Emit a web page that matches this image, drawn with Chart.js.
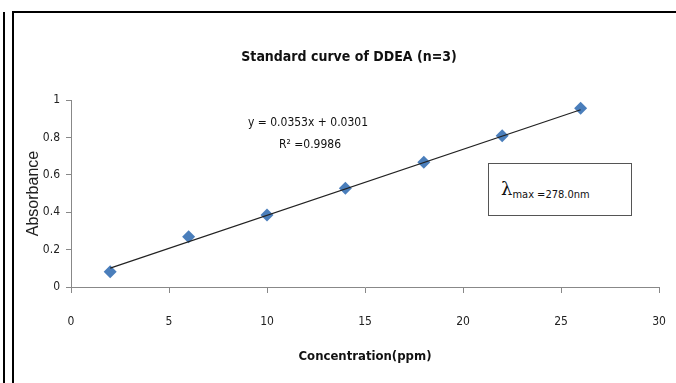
<!DOCTYPE html>
<html>
<head>
<meta charset="utf-8">
<script src="https://cdn.jsdelivr.net/npm/chart.js@4"></script>
<style>
  html, body { margin: 0; padding: 0; background: #fff; }
  #wrap { position: relative; width: 676px; height: 383px; overflow: hidden; }
  canvas { position: absolute; left: 0; top: 0; }
  .frame { position: absolute; background: #000; }
  .txt { position: absolute; font-family: "Liberation Sans Narrow", "DejaVu Sans Condensed", sans-serif; color: #111; white-space: nowrap; }
  #lbox { position: absolute; left: 488px; top: 163px; width: 142px; height: 51px; border: 1.5px solid #555; background: #fff; }
</style>
</head>
<body>
<div id="wrap">
  <canvas id="c" width="676" height="383"></canvas>
  <div class="frame" style="left:3px; top:12px; width:2px; height:371px;"></div>
  <div class="frame" style="left:12px; top:11px; width:2px; height:372px;"></div>
  <div class="frame" style="left:12px; top:11px; width:664px; height:2px;"></div>
  <div class="txt" id="title" style="left:0; width:698px; text-align:center; top:48px; font-size:14px; font-weight:bold;">Standard curve of DDEA (n=3)</div>
  <div class="txt" style="left:208px; width:200px; text-align:center; top:115px; font-size:12px;">y = 0.0353x + 0.0301</div>
  <div class="txt" style="left:210px; width:200px; text-align:center; top:137px; font-size:12px;">R² =0.9986</div>
  <div id="lbox"><div class="txt" style="left:12px; top:14px;"><span style="font-family:'DejaVu Serif',serif;font-size:18px;">λ</span><span style="font-size:11px;position:relative;top:3px;">max =278.0nm</span></div></div>
</div>
<script>
// Data
const concentration = [2, 6, 10, 14, 18, 22, 26];
const absorbance = [0.082, 0.269, 0.385, 0.528, 0.667, 0.809, 0.956];
// Trendline end points (from y = 0.0353x + 0.0301 shown on the chart)
const trendX = [2, 26];
const trendY = [0.101, 0.948];
const xTicks = [0, 5, 10, 15, 20, 25, 30];
const yTicks = [0, 0.2, 0.4, 0.6, 0.8, 1];
const yTickLabels = ['0', '0.2', '0.4', '0.6', '0.8', '1'];

const FONT = '"Liberation Sans Narrow", "DejaVu Sans Condensed", sans-serif';

new Chart(document.getElementById('c'), {
  type: 'scatter',
  data: {
    datasets: [
      {
        type: 'line',
        label: 'Trend',
        data: trendX.map((x, i) => ({ x: x, y: trendY[i] })),
        borderColor: '#222',
        borderWidth: 1.2,
        pointRadius: 0,
        fill: false,
        order: 0
      },
      {
        label: 'Absorbance',
        data: concentration.map((x, i) => ({ x: x, y: absorbance[i] })),
        pointStyle: 'rectRot',
        pointRadius: 6.5,
        backgroundColor: '#4A7EBB',
        borderColor: '#4A7EBB',
        borderWidth: 0,
        order: 1
      }
    ]
  },
  options: {
    responsive: false,
    animation: false,
    events: [],
    layout: { padding: { left: 0, top: 100, right: 17, bottom: 0 } },
    plugins: { legend: { display: false }, tooltip: { enabled: false }, title: { display: false } },
    scales: {
      x: {
        type: 'linear',
        min: 0, max: 30,
        afterBuildTicks: s => { s.ticks = xTicks.map(v => ({ value: v })); },
        afterFit: s => { s.height = 96; s.paddingLeft = 0; s.paddingRight = 0; },
        grid: { drawOnChartArea: false, drawTicks: true, tickLength: 6, color: '#888' },
        border: { display: true, color: '#888', width: 1 },
        ticks: { padding: 22, color: '#222', font: { family: FONT, size: 12 }, maxRotation: 0 },
        title: { display: true, text: 'Concentration(ppm)', color: '#111', font: { family: FONT, size: 13, weight: 'bold' }, padding: { top: 0, bottom: 19 } }
      },
      y: {
        type: 'linear',
        min: 0, max: 1,
        afterBuildTicks: s => { s.ticks = yTicks.map(v => ({ value: v })); },
        afterFit: s => { s.width = 71; },
        grid: { drawOnChartArea: false, drawTicks: true, tickLength: 5, color: '#888' },
        border: { display: true, color: '#888', width: 1 },
        ticks: { padding: 6, color: '#222', font: { family: FONT, size: 12 },
                 callback: (v) => { const i = yTicks.findIndex(t => Math.abs(t - v) < 1e-9); return i >= 0 ? yTickLabels[i] : ''; } },
        title: { display: true, text: 'Absorbance', color: '#222', font: { family: '"Liberation Sans", Arial, sans-serif', size: 16 }, padding: { top: 24, bottom: 0 } }
      }
    }
  }
});
</script>
</body>
</html>
